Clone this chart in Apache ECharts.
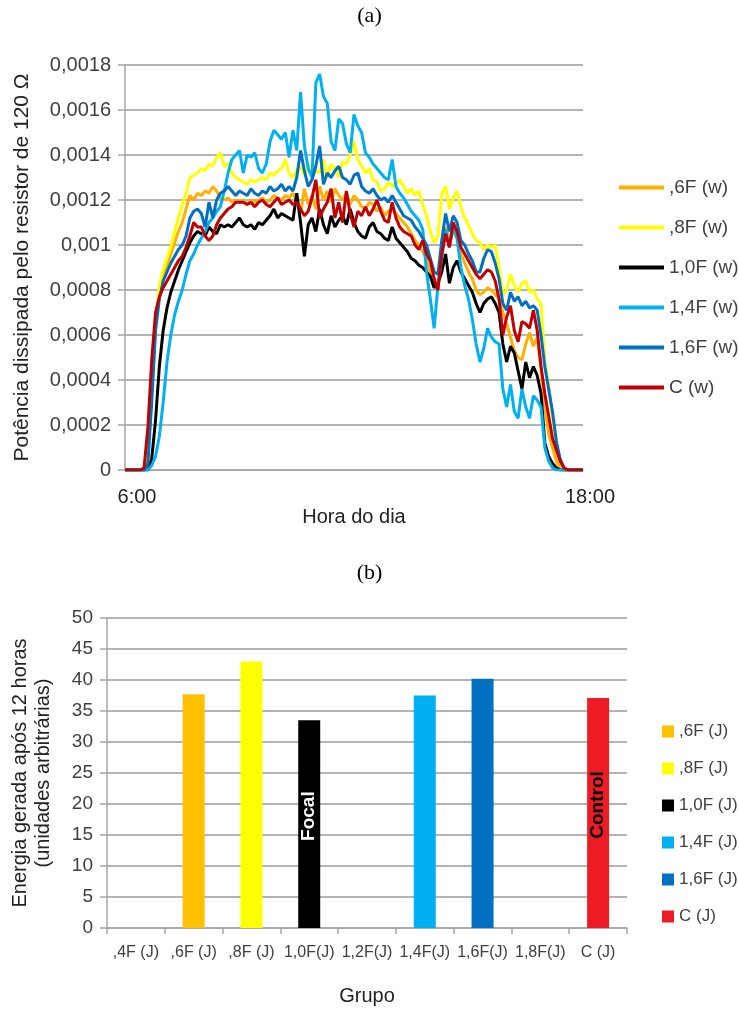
<!DOCTYPE html>
<html>
<head>
<meta charset="utf-8">
<script src="https://cdn.jsdelivr.net/npm/echarts@6/dist/echarts.min.js"></script>
<style>
html, body { margin: 0; padding: 0; background: #fff; }
#chart { width: 739px; height: 1010px; }
</style>
</head>
<body>
<div id="chart"></div>
<script>
// (a) potência ao longo do dia, leituras a cada 6 min, em unidades de 0,0001 W
var horas = ['6:00','6:06','6:12','6:18','6:24','6:30','6:36','6:42','6:48','6:54',
  '7:00','7:06','7:12','7:18','7:24','7:30','7:36','7:42','7:48','7:54',
  '8:00','8:06','8:12','8:18','8:24','8:30','8:36','8:42','8:48','8:54',
  '9:00','9:06','9:12','9:18','9:24','9:30','9:36','9:42','9:48','9:54',
  '10:00','10:06','10:12','10:18','10:24','10:30','10:36','10:42','10:48','10:54',
  '11:00','11:06','11:12','11:18','11:24','11:30','11:36','11:42','11:48','11:54',
  '12:00','12:06','12:12','12:18','12:24','12:30','12:36','12:42','12:48','12:54',
  '13:00','13:06','13:12','13:18','13:24','13:30','13:36','13:42','13:48','13:54',
  '14:00','14:06','14:12','14:18','14:24','14:30','14:36','14:42','14:48','14:54',
  '15:00','15:06','15:12','15:18','15:24','15:30','15:36','15:42','15:48','15:54',
  '16:00','16:06','16:12','16:18','16:24','16:30','16:36','16:42','16:48','16:54',
  '17:00','17:06','17:12','17:18','17:24','17:30','17:36','17:42','17:48','17:54',
  '18:00'];

var p06 = [0,0,0,0,0,0,0.5,3.5,6.4,7.9,
  8.7,9.1,9.6,10.1,10.6,11.0,11.6,12.2,12.0,12.3,
  12.2,12.4,12.3,12.6,12.4,12.1,12.0,12.1,11.9,12.0,
  11.9,12.0,11.8,12.0,11.9,12.0,12.1,11.9,12.0,12.2,
  12.1,12.0,12.2,12.1,12.3,12.0,11.4,12.5,11.8,12.2,
  11.6,12.6,12.0,12.4,11.9,12.5,12.2,12.0,12.3,11.8,
  12.2,12.0,11.7,11.6,11.9,11.8,11.5,11.7,11.3,11.5,
  11.6,11.4,11.2,11.0,10.8,10.5,10.2,10.0,9.7,9.4,
  8.8,8.3,8.2,9.6,10.8,10.2,10.6,10.3,9.6,9.2,
  8.8,8.5,8.0,7.8,7.9,8.1,8.0,7.8,7.6,7.0,
  6.5,5.9,5.3,5.0,4.9,5.6,6.1,5.5,5.9,4.5,
  2.8,1.6,1.0,0.4,0.1,0,0,0,0,0,
  0];

var p08 = [0,0,0,0,0,0,0.8,4.0,6.6,8.2,
  8.9,9.4,9.9,10.6,11.2,11.8,12.3,13.0,13.1,13.2,
  13.4,13.3,13.6,13.5,13.9,14.1,13.5,13.6,13.2,13.0,
  12.9,12.8,12.7,12.9,12.8,12.9,13.0,12.9,13.2,13.1,
  13.3,13.4,13.8,13.2,13.0,13.3,13.5,13.1,13.4,13.6,
  13.3,13.2,13.8,13.0,13.6,13.4,13.0,13.7,13.6,14.0,
  14.6,13.8,13.5,13.2,13.4,12.9,12.8,12.4,12.5,12.8,
  12.6,12.7,12.9,12.6,12.3,12.5,12.2,12.4,11.8,11.3,
  10.6,10.1,10.4,12.3,12.6,11.6,12.1,12.4,11.7,11.2,
  10.9,10.5,10.2,10.1,9.8,10.0,9.9,10.0,9.0,7.8,
  8.0,8.7,8.2,7.9,8.3,8.4,7.9,8.0,7.6,7.4,
  4.8,3.8,2.3,1.0,0.4,0,0,0,0,0,
  0];

var p10 = [0,0,0,0,0,0,0,0.5,2.2,4.6,
  6.2,7.2,7.9,8.4,8.9,9.3,9.7,10.1,10.4,10.6,
  10.5,10.4,10.8,10.6,10.5,10.9,10.8,10.9,10.8,11.0,
  11.2,10.9,10.8,10.9,10.7,11.0,10.9,11.1,11.3,11.6,
  11.2,11.4,11.3,11.2,11.1,12.3,11.0,9.5,10.9,11.2,
  10.6,11.6,10.9,10.5,11.3,10.8,11.1,11.3,10.9,11.6,
  11.0,10.6,10.4,10.3,10.8,11.0,10.6,10.5,10.3,10.2,
  10.8,10.3,10.1,9.9,9.7,9.4,9.3,9.1,9.0,8.8,
  8.6,8.1,8.3,8.8,9.6,8.3,9.0,9.3,8.8,8.5,
  8.2,7.9,7.4,7.0,7.4,7.6,7.7,7.4,7.0,5.6,
  4.8,5.5,5.2,4.4,3.6,4.8,4.1,4.6,4.2,3.4,
  1.2,0.6,0.3,0.1,0,0,0,0,0,0,
  0];

var p14 = [0,0,0,0,0,0,0,0.2,0.6,1.5,
  3.0,4.8,6.0,6.9,7.5,8.0,8.7,9.3,9.6,10.0,
  10.3,10.6,11.0,11.2,11.5,11.7,12.4,13.2,13.8,14.0,
  14.2,13.2,14.0,13.9,14.1,13.4,13.2,13.6,14.6,15.1,
  14.9,14.7,15.0,13.9,15.1,14.2,16.8,14.4,13.4,13.0,
  17.2,17.6,16.6,16.3,14.6,14.2,15.6,15.4,14.5,14.1,
  15.8,15.3,15.0,14.1,13.9,13.6,13.4,13.2,13.0,12.9,
  13.8,12.6,12.3,12.1,11.8,11.5,11.3,11.1,10.7,8.8,
  7.6,6.3,8.2,9.4,10.7,9.9,10.8,10.3,9.0,8.2,
  7.6,6.7,5.6,4.8,5.4,6.3,5.9,5.7,5.6,3.6,
  2.8,3.8,2.6,2.3,3.6,2.8,2.3,3.3,3.1,2.8,
  1.0,0.4,0.1,0,0,0,0,0,0,0,
  0];

var p16 = [0,0,0,0,0,0,0.3,3.0,6.2,7.6,
  8.4,8.8,9.2,9.5,9.8,10.0,10.4,11.2,11.5,11.6,
  11.4,10.8,11.9,11.2,12.0,12.3,12.4,12.6,12.4,12.2,
  12.4,12.3,12.2,12.5,12.3,12.2,12.4,12.3,12.6,12.4,
  12.5,12.7,12.4,12.6,12.4,13.0,14.2,13.3,12.6,12.9,
  13.5,14.4,12.7,13.2,13.0,13.3,13.5,13.0,12.9,12.7,
  13.1,13.2,12.6,12.4,12.3,12.5,12.2,12.0,12.1,11.9,
  12.2,11.9,11.6,11.3,11.2,11.1,10.8,10.6,10.3,10.0,
  9.4,8.8,8.7,10.2,11.4,10.6,11.3,11.0,10.2,10.0,
  9.6,9.3,8.8,8.8,9.4,9.8,9.7,9.2,8.5,7.4,
  7.1,7.9,7.5,7.7,7.3,7.5,7.2,7.3,7.1,6.0,
  4.6,3.6,2.6,1.3,0.5,0.1,0,0,0,0,
  0];

var pC = [0,0,0,0,0,0.1,1.9,4.9,7.0,7.7,
  8.1,8.4,8.7,9.0,9.3,9.5,9.9,10.4,11.0,10.8,
  10.8,10.4,10.2,10.4,10.9,11.2,11.4,11.6,11.7,11.9,
  11.9,11.9,11.8,11.9,11.7,11.9,12.0,11.8,11.7,11.9,
  12.1,11.8,11.9,12.0,11.8,11.9,11.6,11.3,11.5,12.1,
  12.9,11.2,11.6,11.9,12.5,11.2,11.9,11.0,12.4,11.4,
  10.8,11.5,11.3,11.7,11.3,11.6,12.0,11.5,11.1,11.0,
  11.9,11.2,10.8,10.6,10.5,10.4,10.0,9.8,10.2,9.6,
  9.3,8.5,8.0,9.6,10.5,9.9,11.0,10.6,9.9,9.6,
  9.3,9.0,8.7,8.5,8.7,8.9,8.8,8.4,7.6,6.0,
  6.8,7.3,6.2,5.7,6.6,6.5,6.3,7.1,6.2,4.6,
  3.4,2.4,1.4,0.9,0.4,0.1,0,0,0,0,
  0];

var nomesLinha = [',6F (w)', ',8F (w)', '1,0F (w)', '1,4F (w)', '1,6F (w)', 'C (w)'];
var coresLinha = ['#FFB000', '#FFFF00', '#000000', '#00B0F0', '#0070C0', '#C00000'];

// (b) energia gerada por grupo
var grupos = [',4F (J)', ',6F (J)', ',8F (J)', '1,0F(J)', '1,2F(J)', '1,4F(J)', '1,6F(J)', '1,8F(J)', 'C (J)'];
var energia = [null, 37.7, 43.0, 33.5, null, 37.5, 40.2, null, 37.1];
var nomesBarra = [',6F (J)', ',8F (J)', '1,0F (J)', '1,4F (J)', '1,6F (J)', 'C (J)'];
var posBarra = [1, 2, 3, 5, 6, 8];
var coresBarra = ['#FFC000', '#FFFF00', '#000000', '#00B0F0', '#0070C0', '#ED1C24'];
var rotuloBarra = ['', '', 'Focal', '', '', 'Control'];
var corRotulo = ['', '', '#ffffff', '', '', '#000000'];

var fonte = "'Liberation Sans', Arial, sans-serif";
var cinza = '#a6a6a6';

var chart = echarts.init(document.getElementById('chart'));

var series = [];
[p06, p08, p10, p14, p16, pC].forEach(function (d, k) {
  series.push({
    type: 'line',
    name: nomesLinha[k],
    xAxisIndex: 0,
    yAxisIndex: 0,
    data: d,
    symbol: 'none',
    lineStyle: { width: 3, color: coresLinha[k] },
    itemStyle: { color: coresLinha[k] }
  });
});
nomesBarra.forEach(function (n, k) {
  var pos = posBarra[k];
  series.push({
    type: 'bar',
    name: n,
    xAxisIndex: 1,
    yAxisIndex: 1,
    stack: 'grupo',
    barWidth: 22,
    data: grupos.map(function (g, j) { return j === pos ? energia[j] : null; }),
    itemStyle: { color: coresBarra[k] },
    label: {
      show: rotuloBarra[k] !== '',
      position: 'inside',
      rotate: 90,
      offset: [8, 0],
      formatter: rotuloBarra[k],
      color: corRotulo[k] || '#000',
      fontWeight: 'bold',
      fontSize: 19,
      fontFamily: fonte
    }
  });
});

chart.setOption({
  animation: false,
  textStyle: { fontFamily: fonte },
  title: [
    { text: '(a)', left: 'center', top: 0,
      textStyle: { fontFamily: "'Liberation Serif', serif", fontSize: 22, fontWeight: 'normal', color: '#000' } },
    { text: '(b)', left: 'center', top: 557,
      textStyle: { fontFamily: "'Liberation Serif', serif", fontSize: 22, fontWeight: 'normal', color: '#000' } }
  ],
  legend: [
    { data: nomesLinha, orient: 'vertical', left: 614, top: 173, itemGap: 21,
      icon: 'rect', itemWidth: 45, itemHeight: 4,
      textStyle: { fontSize: 19, color: '#404040', fontFamily: fonte } },
    { data: nomesBarra, orient: 'vertical', left: 657, top: 718, itemGap: 20,
      icon: 'rect', itemWidth: 12, itemHeight: 12,
      textStyle: { fontSize: 17, color: '#404040', fontFamily: fonte } }
  ],
  grid: [
    { left: 125, right: 156, top: 65, bottom: 540 },
    { left: 107, right: 112, top: 618, bottom: 82 }
  ],
  xAxis: [
    {
      gridIndex: 0,
      type: 'category',
      data: horas,
      boundaryGap: false,
      axisLine: { lineStyle: { color: cinza, width: 1.5 } },
      axisTick: { show: false },
      axisLabel: {
        interval: function (i) { return i === 0 || i === horas.length - 1; },
        margin: 17,
        formatter: function (v, i) { return i === 0 ? '{l|' + v + '}' : '{r|' + v + '}'; },
        rich: {
          l: { padding: [0, 0, 0, 24], fontSize: 20, color: '#222', fontFamily: fonte },
          r: { padding: [0, 0, 0, 14], fontSize: 20, color: '#222', fontFamily: fonte }
        }
      },
      name: 'Hora do dia',
      nameLocation: 'middle',
      nameGap: 17,
      nameTextStyle: { fontSize: 20, color: '#222', fontFamily: fonte }
    },
    {
      gridIndex: 1,
      type: 'category',
      data: grupos,
      axisLine: { lineStyle: { color: cinza, width: 1.5 } },
      axisTick: { show: true, length: 6, lineStyle: { color: cinza, width: 1.5 } },
      axisLabel: { interval: 0, margin: 17, fontSize: 16, color: '#404040', fontFamily: fonte },
      name: 'Grupo',
      nameLocation: 'middle',
      nameGap: 58,
      nameTextStyle: { fontSize: 20, color: '#222', fontFamily: fonte }
    }
  ],
  yAxis: [
    {
      gridIndex: 0,
      type: 'value',
      min: 0,
      max: 18,
      interval: 2,
      axisLine: { show: true, lineStyle: { color: cinza, width: 1.5 } },
      axisTick: { show: true, length: 7, lineStyle: { color: cinza, width: 1.5 } },
      splitLine: { lineStyle: { color: '#b4b4b4', width: 2 } },
      axisLabel: {
        margin: 14, fontSize: 20, color: '#404040', fontFamily: fonte,
        formatter: function (v) { return v === 0 ? '0' : String(+(v / 10000).toFixed(4)).replace('.', ','); }
      },
      name: 'Potência dissipada pelo resistor de 120 Ω',
      nameLocation: 'middle',
      nameRotate: 90,
      nameGap: 92,
      nameTextStyle: { fontSize: 21, color: '#222', fontFamily: fonte }
    },
    {
      gridIndex: 1,
      type: 'value',
      min: 0,
      max: 50,
      interval: 5,
      axisLine: { show: true, lineStyle: { color: cinza, width: 1.5 } },
      axisTick: { show: true, length: 7, lineStyle: { color: cinza, width: 1.5 } },
      splitLine: { lineStyle: { color: '#b4b4b4', width: 2 } },
      axisLabel: { margin: 14, fontSize: 19, color: '#404040', fontFamily: fonte },
      name: 'Energia gerada após 12 horas\n(unidades arbitrárias)',
      nameLocation: 'middle',
      nameRotate: 90,
      nameGap: 52,
      nameTextStyle: { fontSize: 20, lineHeight: 23, color: '#222', fontFamily: fonte }
    }
  ],
  series: series
});
</script>
</body>
</html>
